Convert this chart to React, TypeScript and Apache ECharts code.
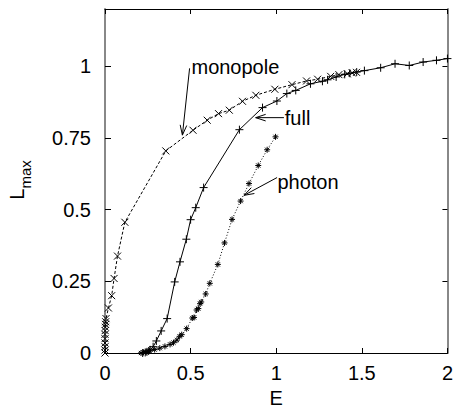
import React, { useEffect, useRef } from "react";
import * as echarts from "echarts";

// ---- data ----
const E_MONOPOLE = [0, 0, 0, 0, 0, 0, 0.001, 0.002, 0.003, 0.004, 0.006, 0.02, 0.039, 0.053, 0.073, 0.116, 0.355, 0.514, 0.597, 0.663, 0.726, 0.803, 0.881, 0.992, 1.092, 1.177, 1.242, 1.318, 1.366, 1.415, 1.444, 1.469];
const L_MONOPOLE = [0, 0.01, 0.022, 0.035, 0.05, 0.065, 0.078, 0.09, 0.1, 0.109, 0.12, 0.157, 0.2, 0.26, 0.338, 0.456, 0.705, 0.777, 0.812, 0.835, 0.847, 0.878, 0.899, 0.92, 0.936, 0.949, 0.955, 0.965, 0.971, 0.974, 0.977, 0.979];

const E_FULL = [0.22, 0.235, 0.245, 0.255, 0.264, 0.281, 0.3, 0.328, 0.363, 0.407, 0.438, 0.475, 0.5, 0.53, 0.576, 0.785, 0.92, 1.004, 1.062, 1.114, 1.2, 1.27, 1.3, 1.35, 1.4, 1.43, 1.47, 1.515, 1.61, 1.694, 1.777, 1.858, 1.936, 2.0];
const L_FULL = [0, 0.002, 0.004, 0.007, 0.011, 0.022, 0.042, 0.077, 0.12, 0.248, 0.318, 0.397, 0.465, 0.507, 0.577, 0.779, 0.856, 0.879, 0.905, 0.916, 0.939, 0.948, 0.953, 0.963, 0.972, 0.976, 0.98, 0.985, 0.995, 1.009, 1.003, 1.015, 1.021, 1.027];

const E_PHOTON = [0.21, 0.225, 0.24, 0.26, 0.29, 0.32, 0.35, 0.38, 0.4, 0.42, 0.436, 0.448, 0.477, 0.51, 0.52, 0.535, 0.545, 0.555, 0.562, 0.588, 0.612, 0.659, 0.698, 0.742, 0.792, 0.841, 0.895, 0.947, 0.996];
const L_PHOTON = [0, 0.002, 0.004, 0.008, 0.012, 0.017, 0.023, 0.03, 0.036, 0.045, 0.058, 0.064, 0.085, 0.122, 0.124, 0.15, 0.155, 0.172, 0.178, 0.206, 0.243, 0.309, 0.384, 0.466, 0.53, 0.591, 0.654, 0.709, 0.754];

const X_TICKS = [0, 0.5, 1, 1.5, 2];
const Y_TICKS = [0, 0.25, 0.5, 0.75, 1];

const ANNOTATION_LABELS = ["monopole", "full", "photon"];
const ANNOTATION_TEXT_AT = [[0.505, 0.997], [1.05, 0.82], [1.007, 0.597]];
const ANNOTATION_TAIL_AT = [[0.494, 0.993], [1.045, 0.821], [1.005, 0.612]];
const ANNOTATION_HEAD_AT = [[0.452, 0.76], [0.88, 0.821], [0.812, 0.55]];

const zip = (xs: number[], ys: number[]) => xs.map((x, i) => [x, ys[i]]);

const FONT = "'Liberation Sans', Arial, Helvetica, sans-serif";
const CROSS = "path://M0,0L10,10M10,0L0,10";
const PLUS = "path://M5,0L5,10M0,5L10,5";
const STAR = "path://M5,0L5,10M0,5L10,5M1.5,1.5L8.5,8.5M8.5,1.5L1.5,8.5";

export default function App() {
  const ref = useRef<HTMLDivElement>(null);
  useEffect(() => {
    if (!ref.current) return;
    const chart = echarts.init(ref.current, null, { renderer: "svg" });
    const xMin = X_TICKS[0];
    const xMax = X_TICKS[X_TICKS.length - 1];
    const xInt = X_TICKS[1] - X_TICKS[0];
    const yInt = Y_TICKS[1] - Y_TICKS[0];
    const grayLine = { show: true, onZero: false, lineStyle: { color: "#888", width: 2 } };
    const blackLine = { show: true, onZero: false, lineStyle: { color: "#000", width: 1 } };
    const markerStyle = { color: "#000", borderColor: "#000", borderWidth: 1 };

    chart.setOption({
      animation: false,
      textStyle: { fontFamily: FONT },
      grid: { left: 105, right: 6, top: 9, bottom: 60 },
      xAxis: [
        {
          type: "value",
          min: xMin,
          max: xMax,
          interval: xInt,
          position: "bottom",
          axisLine: blackLine,
          axisTick: { inside: true, length: 5, lineStyle: { color: "#000" } },
          axisLabel: { color: "#000", fontSize: 20, margin: 10, fontFamily: FONT },
          splitLine: { show: false },
          name: "E",
          nameLocation: "middle",
          nameGap: 33,
          nameTextStyle: { color: "#000", fontSize: 20, fontFamily: FONT },
        },
        {
          type: "value",
          min: xMin,
          max: xMax,
          interval: xInt,
          position: "top",
          axisLine: blackLine,
          axisTick: { inside: true, length: 5, lineStyle: { color: "#000" } },
          axisLabel: { show: false },
          splitLine: { show: false },
        },
      ],
      yAxis: [
        {
          type: "value",
          min: 0,
          max: 1.2,
          interval: yInt,
          position: "left",
          axisLine: grayLine,
          axisTick: { show: true, inside: true, length: 6, lineStyle: { color: "#000" } },
          axisLabel: { color: "#000", fontSize: 20, margin: 14, fontFamily: FONT, showMaxLabel: false },
          splitLine: { show: false },
        },
        {
          type: "value",
          min: 0,
          max: 1.2,
          interval: yInt,
          position: "right",
          axisLine: grayLine,
          axisTick: { show: true, inside: true, length: 5, lineStyle: { color: "#000" } },
          axisLabel: { show: false },
          splitLine: { show: false },
        },
      ],
      graphic: [
        {
          type: "text",
          x: 16.5,
          y: 180,
          rotation: Math.PI / 2,
          style: {
            text: "{a|L}{b|max}",
            align: "center",
            verticalAlign: "middle",
            fill: "#000",
            rich: {
              a: { fontSize: 20, lineHeight: 32, fontFamily: FONT, verticalAlign: "middle", fill: "#000" },
              b: { fontSize: 15, fontFamily: FONT, verticalAlign: "bottom", fill: "#000" },
            },
          },
        },
      ],
      series: [
        {
          name: "monopole",
          type: "line",
          data: zip(E_MONOPOLE, L_MONOPOLE),
          symbol: CROSS,
          symbolSize: 7,
          showAllSymbol: true,
          itemStyle: markerStyle,
          lineStyle: { color: "#000", width: 1, type: [3, 2] },
        },
        {
          name: "full",
          type: "line",
          data: zip(E_FULL, L_FULL),
          symbol: PLUS,
          symbolSize: 8,
          showAllSymbol: true,
          itemStyle: markerStyle,
          lineStyle: { color: "#000", width: 1, type: "solid" },
        },
        {
          name: "photon",
          type: "line",
          data: zip(E_PHOTON, L_PHOTON),
          symbol: STAR,
          symbolSize: 6,
          showAllSymbol: true,
          itemStyle: markerStyle,
          lineStyle: { color: "#000", width: 1, type: [1, 2] },
        },
        {
          name: "annotations",
          type: "custom",
          data: ANNOTATION_LABELS.map((_, i) => [i]),
          silent: true,
          renderItem: (params: any, api: any) => {
            const i = params.dataIndex;
            const t = api.coord(ANNOTATION_TEXT_AT[i]);
            const tail = api.coord(ANNOTATION_TAIL_AT[i]);
            const head = api.coord(ANNOTATION_HEAD_AT[i]);
            const dx = head[0] - tail[0];
            const dy = head[1] - tail[1];
            const len = Math.sqrt(dx * dx + dy * dy) || 1;
            const ux = dx / len;
            const uy = dy / len;
            const nx = -uy;
            const ny = ux;
            const hl = 10;
            const hw = 3.3;
            const p1 = [head[0] - hl * ux + hw * nx, head[1] - hl * uy + hw * ny];
            const p2 = [head[0] - hl * ux - hw * nx, head[1] - hl * uy - hw * ny];
            return {
              type: "group",
              children: [
                {
                  type: "line",
                  shape: { x1: tail[0], y1: tail[1], x2: head[0], y2: head[1] },
                  style: { stroke: "#000", lineWidth: 1 },
                },
                {
                  type: "polyline",
                  shape: { points: [p1, head, p2] },
                  style: { stroke: "#000", lineWidth: 1, fill: "none" },
                },
                {
                  type: "text",
                  x: t[0],
                  y: t[1],
                  style: {
                    text: ANNOTATION_LABELS[i],
                    fill: "#000",
                    fontSize: 20,
                    fontFamily: FONT,
                    align: "left",
                    verticalAlign: "middle",
                  },
                },
              ],
            };
          },
        },
      ],
    });
    return () => chart.dispose();
  }, []);
  return (
    <div
      ref={ref}
      style={{ position: "absolute", left: 0, top: 0, width: 456, height: 413 }}
    />
  );
}
